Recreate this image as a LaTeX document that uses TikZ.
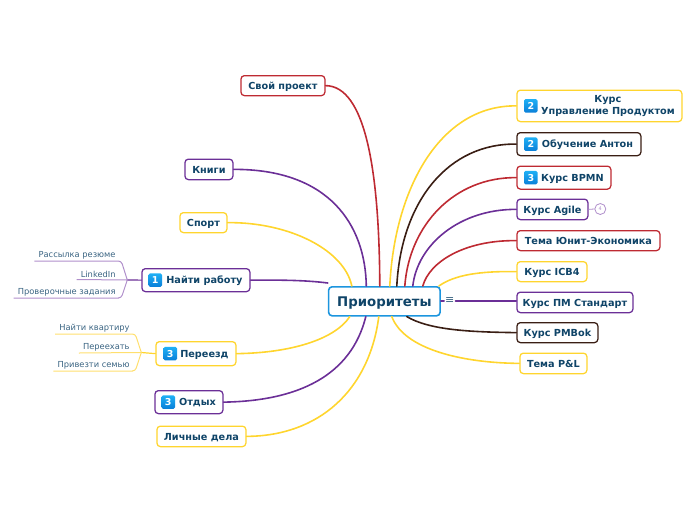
\documentclass[tikz,border=0pt]{standalone}
\usepackage{fontspec}
\setmainfont{DejaVu Sans}
\usetikzlibrary{positioning}
\definecolor{ink}{HTML}{0F4468}
\definecolor{inksub}{HTML}{3A6482}
\definecolor{cyellow}{HTML}{FFD52E}
\definecolor{cpurple}{HTML}{6B2F97}
\definecolor{cred}{HTML}{BE2A32}
\definecolor{cbrown}{HTML}{3A1E14}
\definecolor{cblue}{HTML}{1C95DE}
\definecolor{btop}{HTML}{1FB0F5}
\definecolor{bbot}{HTML}{0A7FD8}
\definecolor{lpurple}{HTML}{B08FCB}
\definecolor{lyellow}{HTML}{FFDF6E}
\tikzset{
  x=1pt,y=-1pt,
  topic/.style={draw=#1,line width=1.25pt,rounded corners=3.5pt,fill=white,inner sep=0pt,
    font=\fontsize{9.7}{10.8}\selectfont\bfseries,text=ink,align=center,anchor=north west,
    text height=8.5pt,text depth=1pt},
  link/.style={draw=#1,line width=1.6pt,line cap=round},
  sublabel/.style={font=\fontsize{8.3}{9}\selectfont,text=inksub,anchor=south east,inner xsep=0pt,inner ysep=2pt},
  subline/.style={draw=#1,line width=1pt,rounded corners=3pt},
  badge/.style={top color=btop,bottom color=bbot,rounded corners=1.5pt,minimum size=13.5pt,inner sep=0pt,text=white,
    font=\fontsize{9.5}{9.5}\selectfont\bfseries}
}
\newcommand{\topicbox}[7][]{%
  \node[topic=#2,minimum width=#5pt,minimum height=#6pt,#1] (#3) at #4 {#7};}
\begin{document}
\begin{tikzpicture}
\useasboundingbox (0.7,0) rectangle (696.7,520);
% topics
\topicbox{cred}{proj}{(241,75)}{84}{20}{Свой проект}
\topicbox{cpurple}{books}{(185,158.5)}{48}{20.5}{Книги}
\topicbox{cyellow}{sport}{(180,212)}{47}{20}{Спорт}
\topicbox{cpurple}{job}{(142,268)}{108}{23}{\hspace*{17pt}Найти работу}
\topicbox{cyellow}{move}{(156,341)}{80}{24}{\hspace*{17pt}Переезд}
\topicbox{cpurple}{rest}{(155,390)}{68}{23}{\hspace*{17pt}Отдых}
\topicbox{cyellow}{pers}{(157,425.5)}{89}{20.5}{Личные дела}
\topicbox[line width=1.6pt,font=\fontsize{13.3}{15}\selectfont\bfseries,text height=11pt]{cblue}{main}{(328.5,286)}{111.5}{29}{Приоритеты}
\topicbox[font=\fontsize{9.7}{11.6}\selectfont\bfseries,text height=,text depth=]{cyellow}{up}{(517,89.5)}{165}{31.5}{\hspace*{17pt}Курс\\\hspace*{17pt}Управление Продуктом}
\topicbox{cbrown}{anton}{(517,132)}{124}{23}{\hspace*{17pt}Обучение Антон}
\topicbox{cred}{bpmn}{(517,165.5)}{94}{23}{\hspace*{17pt}Курс BPMN}
\topicbox{cpurple}{agile}{(517,198.5)}{71}{20.5}{Курс Agile}
\topicbox{cred}{unit}{(517,230)}{143}{20}{Тема Юнит-Экономика}
\topicbox{cyellow}{icb}{(517,261)}{70}{20}{Курс ICB4}
\topicbox{cpurple}{pm}{(517,291.5)}{116}{20.5}{Курс ПМ Стандарт}
\topicbox{cbrown}{pmbok}{(517,322)}{81}{20}{Курс PMBok}
\topicbox{cyellow}{pl}{(520,352.5)}{67}{20.5}{Тема P\&L}
% badges
\node[badge] (b1) at ([xshift=14pt]job.west) {1};
\node[badge] (b2) at ([xshift=15pt]move.west) {3};
\node[badge] (b3) at ([xshift=14pt]rest.west) {3};
\node[badge] (b4) at ([xshift=14.5pt]up.west) {2};
\node[badge] (b5) at ([xshift=14.5pt]anton.west) {2};
\node[badge] (b6) at ([xshift=14.5pt]bpmn.west) {3};
% collapse mark and task circle
\node[font=\fontsize{11}{11}\selectfont,text=inksub,inner sep=0pt,minimum width=11pt] (coll) at (450.5,301) {≡};
\node[circle,draw=lpurple,line width=0.8pt,fill=white,minimum size=11pt,inner sep=0pt,
  font=\fontsize{5}{5}\selectfont,text=lpurple] (task) at (601,209) {4};
% connectors
\path[link=cred] ([xshift=52pt]main.north west) .. controls (380,170) and (366,86) .. (proj.east);
\path[link=cpurple] ([xshift=38.5pt]main.north west) .. controls (366,225) and (330,169) .. (books.east);
\path[link=cyellow] ([xshift=24pt]main.north west) .. controls (345,250) and (290,222) .. (sport.east);
\path[link=cpurple] ([yshift=3pt]main.north west) .. controls (305,280) and (280,280) .. (job.east);
\path[link=cyellow] ([xshift=22pt]main.south west) .. controls (335,340) and (290,353) .. (move.east);
\path[link=cpurple] ([xshift=38pt]main.south west) .. controls (352,375) and (300,401) .. (rest.east);
\path[link=cyellow] ([xshift=51pt]main.south west) .. controls (370,390) and (320,436) .. (pers.east);
\path[link=cyellow] ([xshift=62pt]main.north west) .. controls (395,190) and (440,105) .. (up.west);
\path[link=cbrown] ([xshift=69pt]main.north west) .. controls (402,200) and (450,143) .. (anton.west);
\path[link=cred] ([xshift=77pt]main.north west) .. controls (410,225) and (455,177) .. (bpmn.west);
\path[link=cpurple] ([xshift=85pt]main.north west) .. controls (418,245) and (460,209) .. (agile.west);
\path[link=cred] ([xshift=95pt]main.north west) .. controls (430,262) and (465,240) .. (unit.west);
\path[link=cyellow] ([xshift=-2pt]main.north east) .. controls (455,275) and (480,271) .. (icb.west);
\path[link=cpurple] (main.east |- coll) -- (coll.west);
\path[link=cpurple] (coll.east) -- (pm.west |- coll);
\path[link=cbrown] ([xshift=79pt]main.south west) .. controls (430,330) and (470,332) .. (pmbok.west);
\path[link=cyellow] ([xshift=64pt]main.south west) .. controls (405,350) and (465,363) .. (pl.west);
\draw[draw=lpurple,line width=0.8pt] (agile.east) -- (task.west);
% subtopics of job
\coordinate (jf) at (128,280);
\node[sublabel] (s1) at (116.5,261) {Рассылка резюме};
\node[sublabel] (s2) at (116.5,279.5) {LinkedIn};
\node[sublabel] (s3) at (116.5,298) {Проверочные задания};
\path[link=cpurple,line width=1.2pt] (job.west) -- (jf);
\draw[subline=lpurple] ([xshift=-4pt]s1.south west) -- (s1.south east) -- (122,261) -- (jf);
\draw[subline=lpurple] ([xshift=-4pt]s2.south west) -- (jf);
\draw[subline=lpurple] ([xshift=-4pt]s3.south west) -- (s3.south east) -- (122,298) -- (jf);
% subtopics of move
\coordinate (mf) at (142,352.5);
\node[sublabel] (t1) at (130.5,334) {Найти квартиру};
\node[sublabel] (t2) at (130.5,353) {Переехать};
\node[sublabel] (t3) at (130.5,371) {Привезти семью};
\path[link=cyellow,line width=1.2pt] (move.west) -- (mf);
\draw[subline=lyellow] ([xshift=-4pt]t1.south west) -- (t1.south east) -- (136,334) -- (mf);
\draw[subline=lyellow] ([xshift=-4pt]t2.south west) -- (mf);
\draw[subline=lyellow] ([xshift=-4pt]t3.south west) -- (t3.south east) -- (136,371) -- (mf);
\end{tikzpicture}
\end{document}
